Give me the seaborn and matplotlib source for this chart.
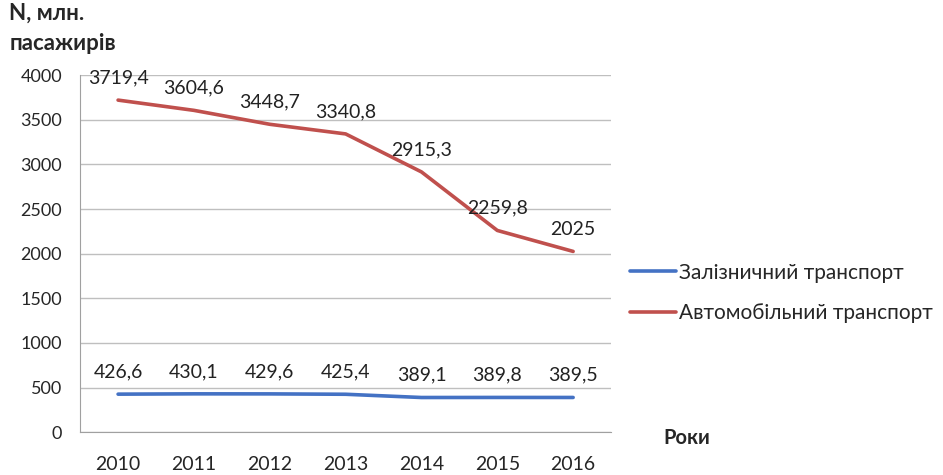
import numpy as np
import pandas as pd
import matplotlib
matplotlib.use("Agg")
import matplotlib.pyplot as plt
import seaborn as sns

YEARS = ["2010", "2011", "2012", "2013", "2014", "2015", "2016"]
RAIL = [426.6, 430.1, 429.6, 425.4, 389.1, 389.8, 389.5]
AUTO = [3719.4, 3604.6, 3448.7, 3340.8, 2915.3, 2259.8, 2025]
SERIES = ["Залізничний транспорт", "Автомобільний транспорт"]
COLORS = ["#4472C4", "#C0504D"]

sns.set_style("white")
plt.rcParams["font.family"] = ["Lato", "DejaVu Sans"]

df = pd.DataFrame({
    "pos": list(range(len(YEARS))) * 2,
    "value": RAIL + AUTO,
    "series": [SERIES[0]] * len(RAIL) + [SERIES[1]] * len(AUTO),
})

fig = plt.figure(figsize=(9.43, 4.75), dpi=100)
ax = fig.add_axes([0.085, 0.09, 0.563, 0.752])

sns.lineplot(data=df, x="pos", y="value", hue="series", palette=COLORS,
             linewidth=2.6, ax=ax, legend=True)

for vals in (RAIL, AUTO):
    for i, v in enumerate(vals):
        ax.annotate(f"{v:g}".replace(".", ","), (i, v), xytext=(0, 10),
                    textcoords="offset points", ha="center", va="bottom",
                    fontsize=14, color="#222222")

ax.set_xlim(-0.5, len(YEARS) - 0.5)
ax.set_ylim(0, 4000)
ax.set_yticks(np.arange(0, 4001, 500))
ax.set_xticks(range(len(YEARS)))
ax.set_xticklabels(YEARS)
ax.set_xticks(np.arange(-0.5, len(YEARS), 1), minor=True)
ax.tick_params(axis="x", which="major", length=0, pad=17, labelsize=14)
ax.tick_params(axis="x", which="minor", length=6, color="#A0A0A0")
ax.tick_params(axis="y", length=5, color="#A0A0A0", labelsize=13, pad=8)
ax.yaxis.grid(True, color="#BFBFBF", linewidth=1)
ax.set_axisbelow(True)
for s in ("top", "right"):
    ax.spines[s].set_visible(False)
for s in ("left", "bottom"):
    ax.spines[s].set_color("#A0A0A0")
ax.set_xlabel("")
ax.set_ylabel("")

fig.text(0.01, 0.995, "N, млн.\nпасажирів", fontsize=16, fontweight="bold",
         va="top", ha="left", linespacing=1.55)
fig.text(0.703, 0.077, "Роки", fontsize=14.5, fontweight="bold", va="center")

ax.legend(loc="center left", bbox_to_anchor=(1.0, 0.39), frameon=False,
          fontsize=15, handlelength=2.2, handletextpad=0.15, labelspacing=1.0)

fig.savefig("out.png", dpi=100)
